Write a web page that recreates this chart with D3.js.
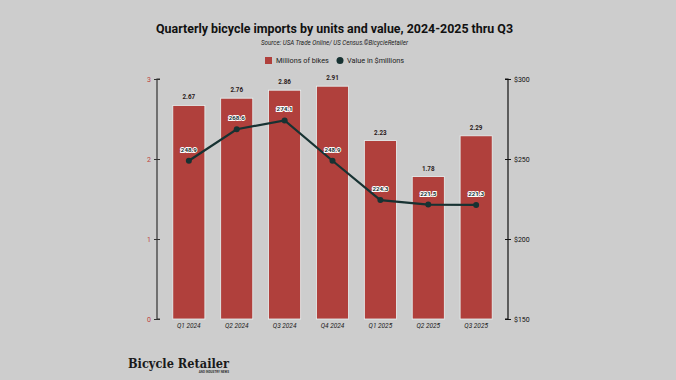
<!DOCTYPE html>
<html><head><meta charset="utf-8">
<script src="https://cdn.jsdelivr.net/npm/d3@7"></script>
<style>
html,body{margin:0;padding:0;background:#cdcdcd;}
svg{display:block;font-family:Roboto,"Noto Sans",sans-serif;}
</style></head>
<body>
<svg id="chart" width="676" height="380"></svg>
<script>
const categories = ["Q1 2024","Q2 2024","Q3 2024","Q4 2024","Q1 2025","Q2 2025","Q3 2025"];
const bikes = [2.67, 2.76, 2.86, 2.91, 2.23, 1.78, 2.29];
const values = [248.9, 268.6, 274.1, 248.9, 224.3, 221.5, 221.3];
const leftTicks = [0, 1, 2, 3];
const rightTicks = [150, 200, 250, 300];

(function () {
const svg = d3.select("#chart");
const W = 676, H = 380;
const mLeft = 157, mRight = 508, mTop = 79, mBottom = 319;
const barColor = "#b0403c", lineColor = "#173232";

svg.append("rect").attr("width", W).attr("height", H).attr("fill", "#cdcdcd");

const x = d3.scaleBand().domain(categories).range([mLeft, mRight]).padding(0.33);
const yL = d3.scaleLinear().domain([0, 3]).range([mBottom, mTop]);
const yR = d3.scaleLinear().domain([150, 300]).range([mBottom, mTop]);

// Title
svg.append("text").attr("x", 334.5).attr("y", 33).attr("text-anchor", "middle")
  .attr("font-size", 13.5).attr("font-weight", 700).attr("fill", "#111")
  .attr("textLength", 357).attr("lengthAdjust", "spacingAndGlyphs")
  .text("Quarterly bicycle imports by units and value, 2024-2025 thru Q3");
svg.append("text").attr("x", 334.5).attr("y", 45).attr("text-anchor", "middle")
  .attr("font-size", 6.3).attr("font-style", "italic").attr("fill", "#222")
  .attr("textLength", 147).attr("lengthAdjust", "spacingAndGlyphs")
  .text("Source: USA Trade Online/ US Census.©BicycleRetailer");

// Legend
const lg = svg.append("g").attr("font-size", 7.3).attr("fill", "#222");
lg.append("rect").attr("x", 265).attr("y", 57).attr("width", 7).attr("height", 7).attr("fill", barColor);
lg.append("text").attr("x", 276).attr("y", 63.3).text("Millions of bikes");
lg.append("circle").attr("cx", 340).attr("cy", 60.5).attr("r", 3.5).attr("fill", lineColor);
lg.append("text").attr("x", 347).attr("y", 63.3).text("Value in $millions");

// Bars
svg.append("g").selectAll("rect").data(categories).join("rect")
  .attr("x", d => x(d)).attr("width", x.bandwidth())
  .attr("y", (d, i) => yL(bikes[i])).attr("height", (d, i) => yL(0) - yL(bikes[i]))
  .attr("fill", barColor).attr("stroke", "#e8f4f4").attr("stroke-width", 0.8);

svg.append("g").selectAll("text").data(categories).join("text")
  .attr("x", d => x(d) + x.bandwidth() / 2).attr("y", (d, i) => yL(bikes[i]) - 6)
  .attr("text-anchor", "middle").attr("font-size", 6.3).attr("font-weight", 700).attr("fill", "#2a1a1a")
  .text((d, i) => bikes[i].toFixed(2));

// Left axis
const axL = svg.append("g").attr("transform", `translate(${mLeft},0)`)
  .call(d3.axisLeft(yL).tickValues(leftTicks).tickFormat(d3.format("d")).tickSize(3));
axL.select(".domain").attr("stroke", "#333").attr("stroke-width", 1.2).attr("d", `M3,${mTop}H0V${mBottom}H3`);
axL.selectAll(".tick line").attr("stroke", "#333").attr("x2", 3).attr("x1", -3);
axL.selectAll(".tick text").attr("fill", "#c0413c").attr("font-size", 7).attr("x", -6)
  .attr("font-family", "Roboto,sans-serif");

// Right axis
const axR = svg.append("g").attr("transform", `translate(${mRight},0)`)
  .call(d3.axisRight(yR).tickValues(rightTicks).tickFormat(d => "$" + d).tickSize(3));
axR.select(".domain").attr("stroke", "#111").attr("stroke-width", 1.2).attr("d", `M-3,${mTop}H0V${mBottom}H-3`);
axR.selectAll(".tick line").attr("stroke", "#111").attr("x1", -3).attr("x2", 3);
axR.selectAll(".tick text").attr("fill", "#111").attr("font-size", 7).attr("x", 6)
  .attr("font-family", "Roboto,sans-serif");

// X axis labels
const axX = svg.append("g").attr("transform", `translate(0,${mBottom})`)
  .call(d3.axisBottom(x).tickSize(0));
axX.select(".domain").remove();
axX.selectAll(".tick text").attr("font-size", 6.5).attr("font-style", "italic").attr("fill", "#222")
  .attr("dy", "0.9em").attr("font-family", "Roboto,sans-serif");

// Line
const line = d3.line().x((d, i) => x(categories[i]) + x.bandwidth() / 2).y(d => yR(d));
svg.append("path").datum(values).attr("d", line).attr("fill", "none")
  .attr("stroke", lineColor).attr("stroke-width", 2.2);
svg.append("g").selectAll("circle").data(values).join("circle")
  .attr("cx", (d, i) => x(categories[i]) + x.bandwidth() / 2).attr("cy", d => yR(d)).attr("r", 3)
  .attr("fill", lineColor);
svg.append("g").selectAll("text").data(values).join("text")
  .attr("x", (d, i) => x(categories[i]) + x.bandwidth() / 2).attr("y", d => yR(d) - 9)
  .attr("text-anchor", "middle").attr("font-size", 6.2).attr("font-weight", 700)
  .attr("fill", "#173232").attr("stroke", "#ffffff").attr("stroke-width", 1.8)
  .attr("paint-order", "stroke")
  .text(d => d.toFixed(1));

// Logo
svg.append("text").attr("x", 128).attr("y", 368).attr("font-family", "'DejaVu Serif',serif")
  .attr("font-weight", 700).attr("font-size", 13).attr("fill", "#1a1a1a")
  .attr("textLength", 101).attr("lengthAdjust", "spacingAndGlyphs")
  .text("Bicycle Retailer");
svg.append("text").attr("x", 229).attr("y", 373).attr("text-anchor", "end")
  .attr("font-size", 3).attr("font-weight", 700).attr("fill", "#333")
  .text("AND INDUSTRY NEWS");
})();
</script>
</body></html>
